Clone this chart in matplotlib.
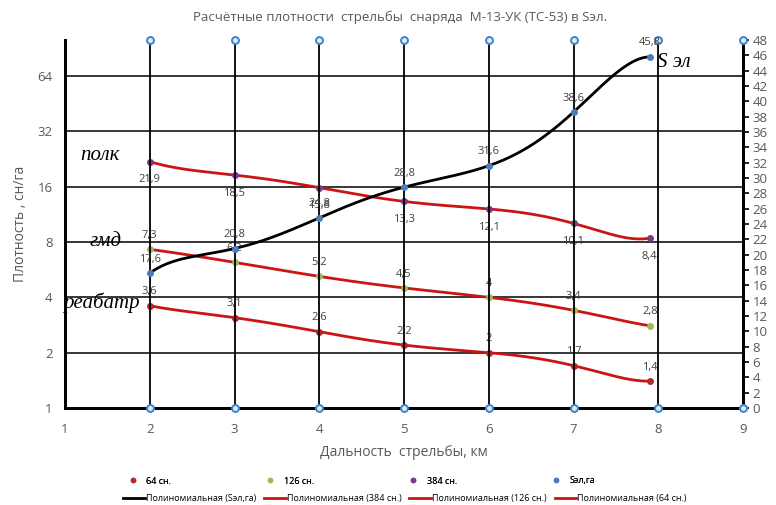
import numpy as np
import matplotlib
matplotlib.use("Agg")
import matplotlib.pyplot as plt
from matplotlib.lines import Line2D

plt.rcParams['font.family'] = ['Open Sans', 'DejaVu Sans']

# данные
dist = [2, 3, 4, 5, 6, 7, 7.9]
s_el = [17.6, 20.8, 24.8, 28.8, 31.6, 38.6, 45.8]      # Sэл, га (правая ось)
polk = [21.9, 18.5, 15.8, 13.3, 12.1, 10.1, 8.4]       # 384 сн.
gmd = [7.3, 6.2, 5.2, 4.5, 4, 3.4, 2.8]                # 126 сн.
reabatr = [3.6, 3.1, 2.6, 2.2, 2, 1.7, 1.4]            # 64 сн.
grid_x = [2, 3, 4, 5, 6, 7, 8, 9]
left_ticks = [1, 2, 4, 8, 16, 32, 64]
right_ticks = list(range(0, 50, 2))
x_ticks = [1, 2, 3, 4, 5, 6, 7, 8, 9]

grey = '#595959'
lbl = '#404040'
red = '#cc1414'


def fmt(v):
    return f"{v:g}".replace('.', ',')


def trend(x, y, n=200):
    p = np.polynomial.Polynomial.fit(x, y, 6)
    xs = np.linspace(min(x), max(x), n)
    return xs, p(xs)


fig = plt.figure(figsize=(7.76, 5.05), dpi=100)
ax = fig.add_axes([65 / 776, 1 - 408 / 505, (743 - 65) / 776, (408 - 40) / 505])
ax2 = ax.twinx()

ax.set_yscale('log', base=2)
ax.set_ylim(1, 2 ** 6.65)
ax.set_xlim(1, 9)
ax.set_yticks(left_ticks)
ax.set_yticklabels([str(t) for t in left_ticks])
ax.yaxis.set_minor_locator(matplotlib.ticker.NullLocator())
ax.set_xticks(x_ticks)
ax.tick_params(axis='y', length=0, pad=9, labelsize=9.5, labelcolor=grey)
ax.tick_params(axis='x', length=0, pad=11, labelsize=9.5, labelcolor=grey)
ax.yaxis.grid(True, color='black', lw=1.1)
ax.set_axisbelow(True)

ax2.set_ylim(0, 48)
ax2.set_yticks(right_ticks)
ax2.tick_params(axis='y', length=4, width=1.2, direction='out', pad=3,
                labelsize=9.5, labelcolor=grey)

for a in (ax, ax2):
    a.spines['top'].set_visible(False)
    for s in ('left', 'bottom', 'right'):
        a.spines[s].set_linewidth(2)
        a.spines[s].set_color('black')

# вертикальные линии с маркерами
for gx in grid_x:
    ax2.plot([gx, gx], [0, 48], color='black', lw=1.3, marker='o', ms=5,
             mfc='#dce9f7', mec='#3d85c6', mew=1.4, clip_on=False, zorder=3)

# тренды
for ys in (polk, gmd, reabatr):
    xs, yy = trend(dist, ys)
    ax.plot(xs, yy, color=red, lw=2, zorder=4)
xs, yy = trend(dist, s_el)
ax2.plot(xs, yy, color='black', lw=2, zorder=4)

# точки
ax.plot(dist, polk, 'o', ms=4, color='#7a3a8c', zorder=5)
ax.plot(dist, gmd, 'o', ms=4, color='#9bbb59', zorder=5)
ax.plot(dist, reabatr, 'o', ms=4, color='#b02a2a', zorder=5)
ax2.plot(dist, s_el, 'o', ms=4, color='#4a7ebb', zorder=5)

# подписи значений
for x, v in zip(dist, polk):
    ax.annotate(fmt(v), (x, v), xytext=(0, -13), textcoords='offset points',
                ha='center', va='center', fontsize=8, color=lbl)
for x, v in zip(dist, gmd):
    ax.annotate(fmt(v), (x, v), xytext=(0, 10), textcoords='offset points',
                ha='center', va='center', fontsize=8, color=lbl)
for x, v in zip(dist, reabatr):
    ax.annotate(fmt(v), (x, v), xytext=(0, 10), textcoords='offset points',
                ha='center', va='center', fontsize=8, color=lbl)
for x, v in zip(dist, s_el):
    ax2.annotate(fmt(v), (x, v), xytext=(0, 10), textcoords='offset points',
                 ha='center', va='center', fontsize=8, color=lbl)

# надписи
tf = dict(family='Liberation Serif', style='italic', fontsize=15, color='black')
ax2.text(1.18, 33.0, 'полк', ha='left', va='center', **tf)
ax2.text(1.29, 21.7, 'гмд', ha='left', va='center', **tf)
ax2.text(0.98, 13.7, 'реабатр', ha='left', va='center', **tf)
ax2.text(7.98, 45.1, 'S эл', ha='left', va='center', **tf)

fig.text(0.515, 1 - 17 / 505, 'Расчётные плотности  стрельбы  снаряда  М-13-УК (ТС-53) в Sэл.',
         ha='center', va='center', fontsize=9.5, color=grey)
ax.set_xlabel('Дальность  стрельбы, км', fontsize=10, color=grey, labelpad=6)
ax.set_ylabel('Плотность , сн/га', fontsize=10, color=grey, labelpad=7)

# легенда
h1 = [Line2D([], [], ls='none', marker='o', ms=3, color=c) for c in
      ('#b02a2a', '#9bbb59', '#7a3a8c', '#4a7ebb')]
l1 = ['64 сн.', '126 сн.', '384 сн.', 'Sэл,га']
leg1 = fig.legend(h1, l1, ncol=4, loc='center left', bbox_to_anchor=(128 / 776, 1 - 481 / 505),
                  frameon=False, fontsize=6.5, handlelength=1.0, handletextpad=1.0,
                  columnspacing=10.5, borderpad=0, borderaxespad=0)
fig.add_artist(leg1)
h2 = [Line2D([], [], color='black', lw=2)] + [Line2D([], [], color=red, lw=2)] * 3
l2 = ['Полиномиальная (Sэл,га)', 'Полиномиальная (384 сн.)',
      'Полиномиальная (126 сн.)', 'Полиномиальная (64 сн.)']
fig.legend(h2, l2, ncol=4, loc='center left', bbox_to_anchor=(123 / 776, 1 - 499 / 505),
           frameon=False, fontsize=6.5, handlelength=2.4, handletextpad=0.1,
           columnspacing=0.9, borderpad=0, borderaxespad=0)

fig.savefig('out.png', dpi=100)
